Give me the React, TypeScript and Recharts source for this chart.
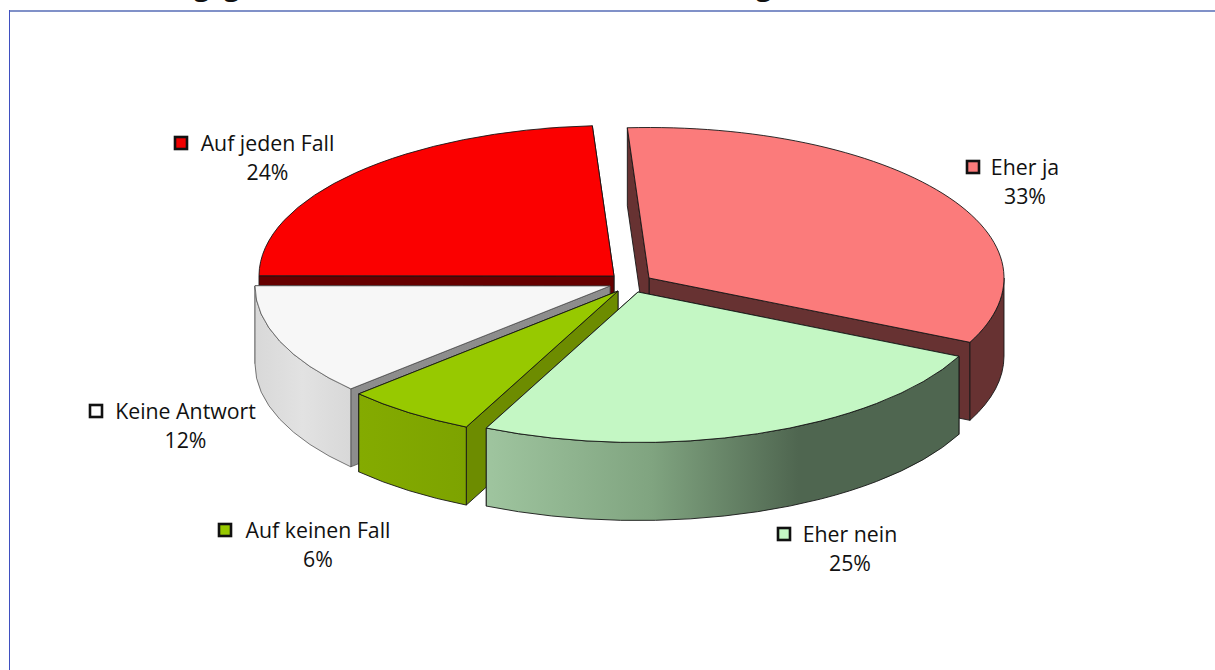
import React from "react";
import { PieChart, Pie } from "recharts";

const categories = ["Eher ja", "Auf jeden Fall", "Keine Antwort", "Auf keinen Fall", "Eher nein"];
const shares = [33, 24, 12, 6, 25];
const tableData = categories.map((name, i) => ({ name, value: shares[i] }));

const topColors = ["#fb7b7b", "#fb0000", "#f7f7f7", "#97c900", "#c4f7c4"];
const faceColors = ["#673232", "#660000", "#8d8d8d", "#6d8c00", "#4f6650"];
const swatchColors = ["#fb7b7b", "#f00000", "#ffffff", "#97c900", "#c4f7c4"];
const wallStops: [number, string][][] = [
  [[0, "#673232"], [1, "#673232"]],
  [[0, "#660000"], [1, "#660000"]],
  [[0, "#d8d8d8"], [0.5, "#e2e2e2"], [1, "#d8d8d8"]],
  [[0, "#84ab00"], [1, "#7da300"]],
  [[0, "#9fc59f"], [0.35, "#80a480"], [0.66, "#4f6650"], [1, "#4f6650"]],
];
const explodeShift = [[24, -5], [-11, -7], [-15, 3], [-7, 8], [13, 9]];
const labelSpots = [
  { cx: 1025, y: 168, sw: 966 },
  { cx: 267.5, y: 144, sw: 174 },
  { cx: 185.5, y: 412, sw: 89 },
  { cx: 318, y: 531, sw: 218 },
  { cx: 850, y: 535, sw: 777 },
];

const SQUASH = 150.5 / 355;
const DEPTH = 78;
const FONT = "'Open Sans', 'Noto Sans', sans-serif";

function Slice3D(props: any) {
  const { cx, cy, outerRadius, startAngle, endAngle, index } = props;
  const [sx, sy] = explodeShift[index];
  const x0 = cx + sx;
  const y0 = cy + sy;
  const rx = outerRadius;
  const ry = outerRadius * SQUASH;
  const pt = (a: number, d = 0): [number, number] => {
    const t = (a * Math.PI) / 180;
    return [x0 + rx * Math.cos(t), y0 - ry * Math.sin(t) + d];
  };
  const f = (p: [number, number]) => `${p[0].toFixed(2)} ${p[1].toFixed(2)}`;
  const faces = [startAngle, endAngle].map((a: number) => {
    const p = pt(a);
    return `M${x0} ${y0}L${f(p)}L${f(pt(a, DEPTH))}L${x0} ${y0 + DEPTH}Z`;
  });
  const ranges = [[-180, 0], [180, 360]];
  const walls: string[] = [];
  ranges.forEach(([lo, hi]) => {
    const a1 = Math.max(lo, startAngle);
    const a2 = Math.min(hi, endAngle);
    if (a2 > a1) {
      const large = a2 - a1 > 180 ? 1 : 0;
      walls.push(
        `M${f(pt(a1))}A${rx} ${ry} 0 ${large} 0 ${f(pt(a2))}L${f(pt(a2, DEPTH))}A${rx} ${ry} 0 ${large} 1 ${f(pt(a1, DEPTH))}Z`
      );
    }
  });
  const large = endAngle - startAngle > 180 ? 1 : 0;
  const top = `M${x0} ${y0}L${f(pt(startAngle))}A${rx} ${ry} 0 ${large} 0 ${f(pt(endAngle))}Z`;
  const gid = `wall-${index}`;
  const edge = index === 2 ? "#444" : "#161616";
  const sw = index === 2 ? 0.7 : 0.9;
  return (
    <g>
      <defs>
        <linearGradient id={gid} x1="0" y1="0" x2="1" y2="0">
          {wallStops[index].map(([o, c], i) => (
            <stop key={i} offset={o} stopColor={c} />
          ))}
        </linearGradient>
      </defs>
      {faces.map((d: string, i: number) => (
        <path key={i} d={d} fill={faceColors[index]} stroke={edge} strokeWidth={sw} strokeLinejoin="round" />
      ))}
      {walls.map((d, i) => (
        <path key={i} d={d} fill={`url(#${gid})`} stroke={edge} strokeWidth={sw} strokeLinejoin="round" />
      ))}
      <path d={top} fill={topColors[index]} stroke={edge} strokeWidth={sw} strokeLinejoin="round" />
    </g>
  );
}

function SliceLabel(props: any) {
  const { index, name, value } = props;
  const spot = labelSpots[index];
  const total = shares.reduce((a, b) => a + b, 0);
  return (
    <g style={{ fontFamily: FONT, fontSize: 21.3 }}>
      <rect x={spot.sw + 1} y={spot.y - 7} width={12} height={12} fill={swatchColors[index]} stroke="#111" strokeWidth={2.6} />
      <text x={spot.cx} y={spot.y + 7} textAnchor="middle" fill="#111">{name}</text>
      <text x={spot.cx} y={spot.y + 36} textAnchor="middle" fill="#111">{`${Math.round((value / total) * 100)}%`}</text>
    </g>
  );
}

const cutTails = [
  { x: 194, t: "g" },
  { x: 224, t: "g" },
  { x: 756, t: "g" },
];

export default function App() {
  return (
    <div style={{ position: "absolute", left: 0, top: 0, width: 1215, height: 670, overflow: "hidden", background: "#fff" }}>
      <div style={{ position: "absolute", left: 9, top: 10, width: 1206, height: 2, background: "#8091c8" }} />
      <div style={{ position: "absolute", left: 9, top: 10, width: 1, height: 660, background: "#3f4fc0" }} />
      {cutTails.map((c, i) => (
        <span key={i} style={{ position: "absolute", left: c.x, top: -30, fontFamily: FONT, fontWeight: 700, fontSize: 27, color: "#111", lineHeight: "32px" }}>{c.t}</span>
      ))}
      <PieChart width={1215} height={670} margin={{ top: 0, right: 0, bottom: 0, left: 0 }} style={{ position: "absolute", left: 0, top: 0 }}>
        <Pie
          data={tableData}
          dataKey="value"
          nameKey="name"
          cx={625}
          cy={283}
          outerRadius={355}
          startAngle={-25.3}
          endAngle={334.7}
          shape={Slice3D}
          label={SliceLabel}
          labelLine={false}
          isAnimationActive={false}
        />
      </PieChart>
    </div>
  );
}
